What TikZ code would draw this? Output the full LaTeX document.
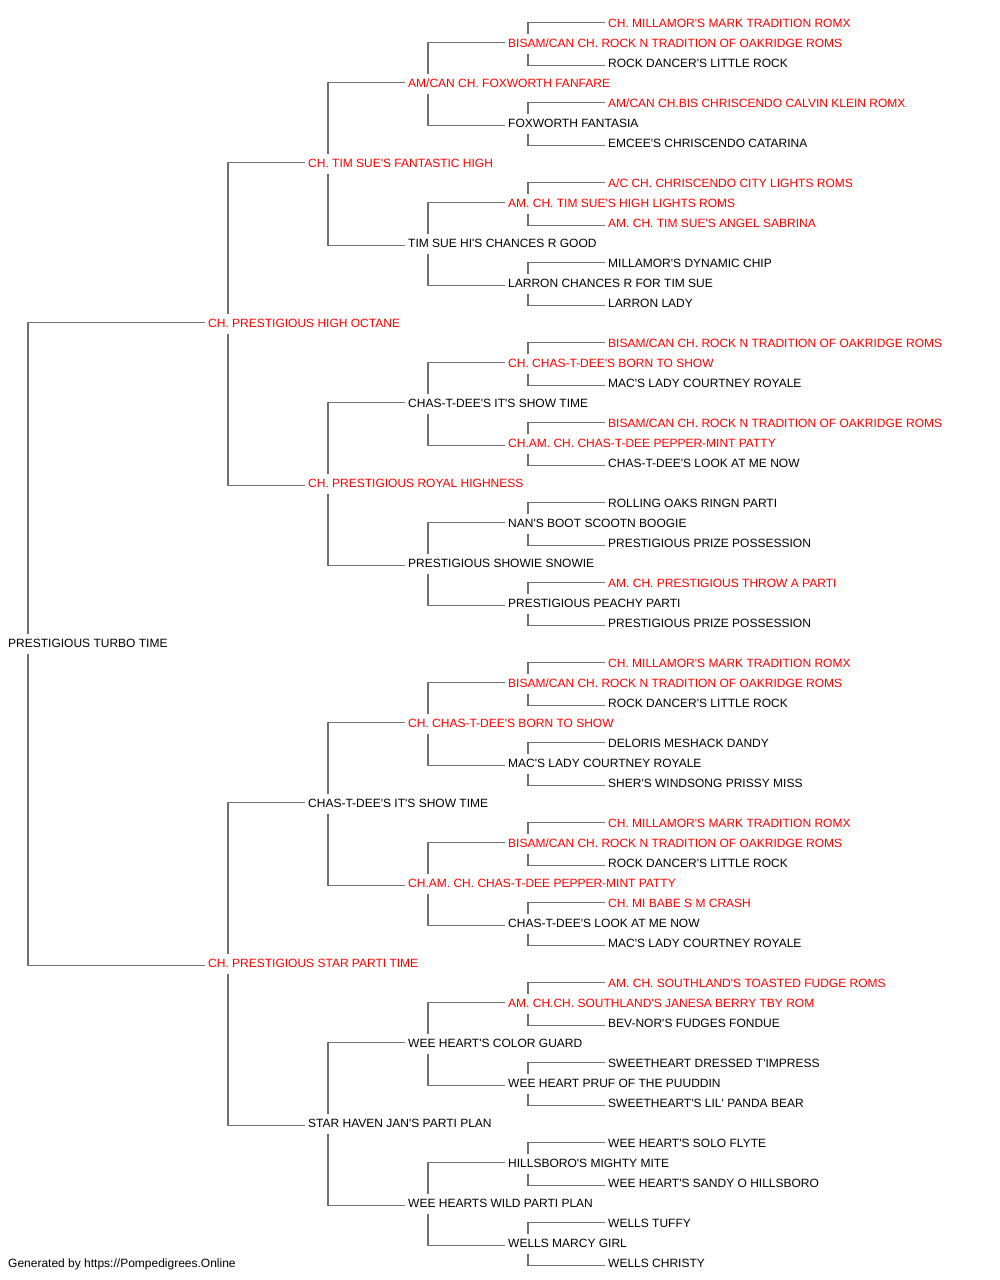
\documentclass[tikz,border=0pt]{standalone}
\usepackage{fontspec}
\newfontfamily\pedfont{Liberation Sans}
\usepackage{tikz}
\usetikzlibrary{calc}
\definecolor{tiegray}{RGB}{112,112,112}
\definecolor{champred}{RGB}{255,0,0}
% sire and dam of one dog: elbow lines into the parent's column
\newcommand\litter[1]{%
\draw[tie] ([shift={(-3,-1)}]#1s.west) -| ([shift={(20,-10)}]#1.west);
\draw[tie] ([shift={(-3,2)}]#1d.west) -| ([shift={(20,10)}]#1.west);
}

\begin{document}
\begin{tikzpicture}[x=1pt,y=-1pt,
    dog/.style={anchor=west,inner sep=0pt,text height=8.6pt,text depth=0pt,yshift=-0.6pt,
      font=\pedfont\fontsize{12pt}{14pt}\selectfont},
    champ/.style={dog,text=champred},
    tie/.style={draw=tiegray,line width=1.4pt}]
	%% columns of the generations
	\def\gA{8}
	\def\gB{208}
	\def\gC{308}
	\def\gD{408}
	\def\gE{508}
	\def\gF{608}

	\useasboundingbox (0,0) rectangle (1000,1280);

	% generation 0
	\node[dog] (p) at (\gA,643) {PRESTIGIOUS TURBO TIME};
	% generation 1
	\node[champ] (ps) at (\gB,323) {CH. PRESTIGIOUS HIGH OCTANE};
	\node[champ] (pd) at (\gB,963) {CH. PRESTIGIOUS STAR PARTI TIME};
	% generation 2
	\node[champ] (pss) at (\gC,163) {CH. TIM SUE'S FANTASTIC HIGH};
	\node[champ] (psd) at (\gC,483) {CH. PRESTIGIOUS ROYAL HIGHNESS};
	\node[dog] (pds) at (\gC,803) {CHAS-T-DEE'S IT'S SHOW TIME};
	\node[dog] (pdd) at (\gC,1123) {STAR HAVEN JAN'S PARTI PLAN};
	% generation 3
	\node[champ] (psss) at (\gD,83) {AM/CAN CH. FOXWORTH FANFARE};
	\node[dog] (pssd) at (\gD,243) {TIM SUE HI'S CHANCES R GOOD};
	\node[dog] (psds) at (\gD,403) {CHAS-T-DEE'S IT'S SHOW TIME};
	\node[dog] (psdd) at (\gD,563) {PRESTIGIOUS SHOWIE SNOWIE};
	\node[champ] (pdss) at (\gD,723) {CH. CHAS-T-DEE'S BORN TO SHOW};
	\node[champ] (pdsd) at (\gD,883) {CH.AM. CH. CHAS-T-DEE PEPPER-MINT PATTY};
	\node[dog] (pdds) at (\gD,1043) {WEE HEART'S COLOR GUARD};
	\node[dog] (pddd) at (\gD,1203) {WEE HEARTS WILD PARTI PLAN};
	% generation 4
	\node[champ] (pssss) at (\gE,43) {BISAM/CAN CH. ROCK N TRADITION OF OAKRIDGE ROMS};
	\node[dog] (psssd) at (\gE,123) {FOXWORTH FANTASIA};
	\node[champ] (pssds) at (\gE,203) {AM. CH. TIM SUE'S HIGH LIGHTS ROMS};
	\node[dog] (pssdd) at (\gE,283) {LARRON CHANCES R FOR TIM SUE};
	\node[champ] (psdss) at (\gE,363) {CH. CHAS-T-DEE'S BORN TO SHOW};
	\node[champ] (psdsd) at (\gE,443) {CH.AM. CH. CHAS-T-DEE PEPPER-MINT PATTY};
	\node[dog] (psdds) at (\gE,523) {NAN'S BOOT SCOOTN BOOGIE};
	\node[dog] (psddd) at (\gE,603) {PRESTIGIOUS PEACHY PARTI};
	\node[champ] (pdsss) at (\gE,683) {BISAM/CAN CH. ROCK N TRADITION OF OAKRIDGE ROMS};
	\node[dog] (pdssd) at (\gE,763) {MAC'S LADY COURTNEY ROYALE};
	\node[champ] (pdsds) at (\gE,843) {BISAM/CAN CH. ROCK N TRADITION OF OAKRIDGE ROMS};
	\node[dog] (pdsdd) at (\gE,923) {CHAS-T-DEE'S LOOK AT ME NOW};
	\node[champ] (pddss) at (\gE,1003) {AM. CH.CH. SOUTHLAND'S JANESA BERRY TBY ROM};
	\node[dog] (pddsd) at (\gE,1083) {WEE HEART PRUF OF THE PUUDDIN};
	\node[dog] (pddds) at (\gE,1163) {HILLSBORO'S MIGHTY MITE};
	\node[dog] (pdddd) at (\gE,1243) {WELLS MARCY GIRL};
	% generation 5
	\node[champ] (psssss) at (\gF,23) {CH. MILLAMOR'S MARK TRADITION ROMX};
	\node[dog] (pssssd) at (\gF,63) {ROCK DANCER'S LITTLE ROCK};
	\node[champ] (psssds) at (\gF,103) {AM/CAN CH.BIS CHRISCENDO CALVIN KLEIN ROMX};
	\node[dog] (psssdd) at (\gF,143) {EMCEE'S CHRISCENDO CATARINA};
	\node[champ] (pssdss) at (\gF,183) {A/C CH. CHRISCENDO CITY LIGHTS ROMS};
	\node[champ] (pssdsd) at (\gF,223) {AM. CH. TIM SUE'S ANGEL SABRINA};
	\node[dog] (pssdds) at (\gF,263) {MILLAMOR'S DYNAMIC CHIP};
	\node[dog] (pssddd) at (\gF,303) {LARRON LADY};
	\node[champ] (psdsss) at (\gF,343) {BISAM/CAN CH. ROCK N TRADITION OF OAKRIDGE ROMS};
	\node[dog] (psdssd) at (\gF,383) {MAC'S LADY COURTNEY ROYALE};
	\node[champ] (psdsds) at (\gF,423) {BISAM/CAN CH. ROCK N TRADITION OF OAKRIDGE ROMS};
	\node[dog] (psdsdd) at (\gF,463) {CHAS-T-DEE'S LOOK AT ME NOW};
	\node[dog] (psddss) at (\gF,503) {ROLLING OAKS RINGN PARTI};
	\node[dog] (psddsd) at (\gF,543) {PRESTIGIOUS PRIZE POSSESSION};
	\node[champ] (psddds) at (\gF,583) {AM. CH. PRESTIGIOUS THROW A PARTI};
	\node[dog] (psdddd) at (\gF,623) {PRESTIGIOUS PRIZE POSSESSION};
	\node[champ] (pdssss) at (\gF,663) {CH. MILLAMOR'S MARK TRADITION ROMX};
	\node[dog] (pdsssd) at (\gF,703) {ROCK DANCER'S LITTLE ROCK};
	\node[dog] (pdssds) at (\gF,743) {DELORIS MESHACK DANDY};
	\node[dog] (pdssdd) at (\gF,783) {SHER'S WINDSONG PRISSY MISS};
	\node[champ] (pdsdss) at (\gF,823) {CH. MILLAMOR'S MARK TRADITION ROMX};
	\node[dog] (pdsdsd) at (\gF,863) {ROCK DANCER'S LITTLE ROCK};
	\node[champ] (pdsdds) at (\gF,903) {CH. MI BABE S M CRASH};
	\node[dog] (pdsddd) at (\gF,943) {MAC'S LADY COURTNEY ROYALE};
	\node[champ] (pddsss) at (\gF,983) {AM. CH. SOUTHLAND'S TOASTED FUDGE ROMS};
	\node[dog] (pddssd) at (\gF,1023) {BEV-NOR'S FUDGES FONDUE};
	\node[dog] (pddsds) at (\gF,1063) {SWEETHEART DRESSED T'IMPRESS};
	\node[dog] (pddsdd) at (\gF,1103) {SWEETHEART'S LIL' PANDA BEAR};
	\node[dog] (pdddss) at (\gF,1143) {WEE HEART'S SOLO FLYTE};
	\node[dog] (pdddsd) at (\gF,1183) {WEE HEART'S SANDY O HILLSBORO};
	\node[dog] (pdddds) at (\gF,1223) {WELLS TUFFY};
	\node[dog] (pddddd) at (\gF,1263) {WELLS CHRISTY};

	% the elbows
	\foreach \n in {p,ps,pd,pss,psd,pds,pdd,psss,pssd,psds,psdd,pdss,pdsd,pdds,pddd,
	  pssss,psssd,pssds,pssdd,psdss,psdsd,psdds,psddd,pdsss,pdssd,pdsds,pdsdd,pddss,pddsd,pddds,pdddd}
	  {\litter{\n}}

	\node[dog] (credit) at (\gA,1263) {Generated by https://Pompedigrees.Online};
\end{tikzpicture}
\end{document}
